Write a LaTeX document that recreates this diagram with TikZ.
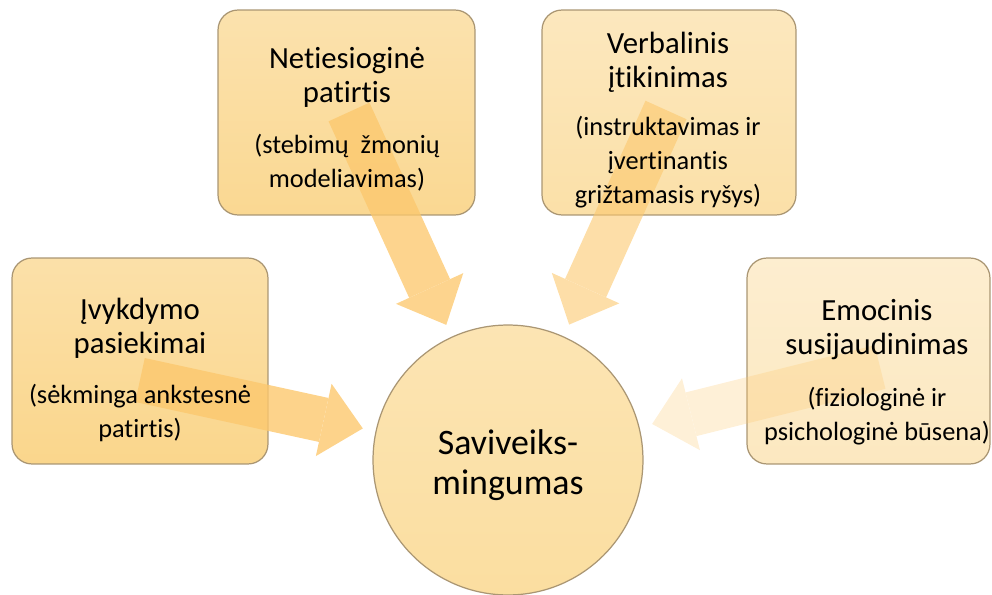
\documentclass[tikz,border=0pt]{standalone}
\usepackage{fontspec}
\setmainfont{Carlito}[RawFeature={-liga;-clig;-calt;-rlig;-dlig}]
\usepackage{tikz}
\usetikzlibrary{arrows.meta, positioning}
\definecolor{inkline}{RGB}{170, 150, 115}
\definecolor{expfill}{RGB}{250, 214, 140}
\definecolor{vicfill}{RGB}{250, 216, 146}
\definecolor{verbfill}{RGB}{251, 224, 168}
\definecolor{emofill}{RGB}{252, 232, 192}
\definecolor{hubfill}{RGB}{251, 222, 160}
\definecolor{arrowor}{RGB}{252, 200, 110}
\newcommand{\ttlfont}{\fontsize{17.5}{19.3}\selectfont}
\newcommand{\subfont}{\fontsize{15}{15.6}\selectfont}
\newcommand{\hubfont}{\fontsize{20.4}{22.7}\selectfont}
\tikzset{
    blk/.style  ={draw=inkline, line width=0.7pt, rounded corners=0.4cm,
                  minimum width=5.12cm, minimum height=4.12cm, inner sep=0pt},
    hub/.style  ={circle, draw=inkline, line width=0.7pt, minimum size=5.4cm,
                  inner sep=0pt, top color=hubfill!80!white, bottom color=hubfill},
    txt/.style  ={align=center, font=\ttlfont, inner sep=0pt},
    bigar/.style={draw=arrowor, line width=0.9cm, shorten >=0.26cm,
                  -{Triangle[width=1.48cm, length=0.8cm, line width=0pt]}}
}

\begin{document}
\begin{tikzpicture}[x=0.02cm, y=-0.02cm]
  \useasboundingbox (0,0) rectangle (992,595);

  \node[blk, top color=expfill!75!white, bottom color=expfill] (exp) at (140,361) {};
  \node[blk, top color=vicfill!75!white, bottom color=vicfill,
        minimum height=4.1cm, minimum width=5.14cm] (vic) at (346.5,112.5) {};
  \node[blk, top color=verbfill!75!white, bottom color=verbfill,
        minimum height=4.1cm, minimum width=5.08cm] (verb) at (669,112.5) {};
  \node[blk, top color=emofill!75!white, bottom color=emofill,
        minimum width=4.86cm] (emo) at (868.5,361) {};
  \node[hub] (sav) at (508,460) {};

  \coordinate (exp-tail)  at (140,380);
  \coordinate (vic-tail)  at (349,112);
  \coordinate (verb-tail) at (666,110);
  \coordinate (emo-tail)  at (880,367);

  % block arrows into the hub
  \begin{scope}[transparency group, opacity=0.8]
    \draw[bigar] (exp-tail) -- (sav);
  \end{scope}
  \begin{scope}[transparency group, opacity=0.78]
    \draw[bigar] (vic-tail) -- (sav);
  \end{scope}
  \begin{scope}[transparency group, opacity=0.6]
    \draw[bigar] (verb-tail) -- (sav);
  \end{scope}
  \begin{scope}[transparency group, opacity=0.28]
    \draw[bigar] (emo-tail) -- (sav);
  \end{scope}

  % texts
  \node[txt, font=\hubfont] (sav-t) at (508,465) {Saviveiks-\\mingumas};
  \node[txt] (exp-t) at (140,370)
    {Įvykdymo\\pasiekimai\\[9.5pt]\subfont (sėkminga ankstesnė\\\subfont patirtis)};
  \node[txt] (vic-t) at (347,119)
    {Netiesioginė\\patirtis\\[9.5pt]\subfont (stebimų~~žmonių\\\subfont modeliavimas)};
  \node[txt] (verb-t) at (668,120)
    {Verbalinis\\įtikinimas\\[8pt]\subfont (instruktavimas ir\\\subfont įvertinantis\\\subfont grižtamasis ryšys)};
  \node[txt] (emo-t) at (877,372)
    {Emocinis\\susijaudinimas\\[10.5pt]\subfont (fiziologinė ir\\\subfont psichologinė būsena)};
\end{tikzpicture}
\end{document}
